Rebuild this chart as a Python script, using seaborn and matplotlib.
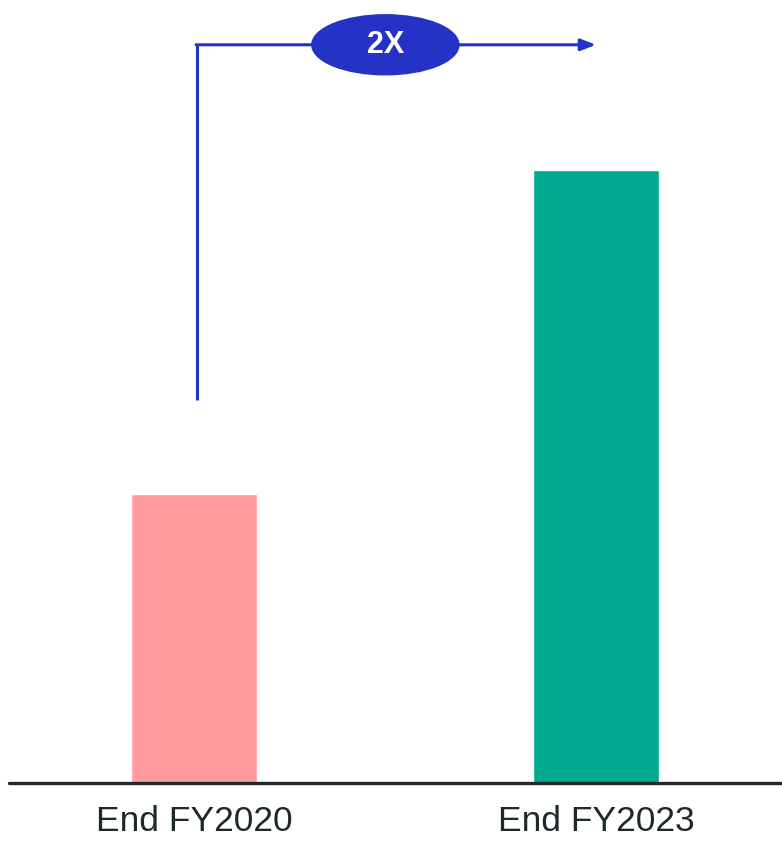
import numpy as np
import pandas as pd
import matplotlib
matplotlib.use("Agg")
import matplotlib.pyplot as plt
from matplotlib.patches import Ellipse
import seaborn as sns

# data
periods = ["End FY2020", "End FY2023"]
values = [1.0, 2.12]
bar_colors = ["#FF9B9E", "#00A88F"]
growth_label = "2X"

df = pd.DataFrame({"period": periods, "value": values})

sns.set_style("white")
plt.rcParams["font.family"] = ["Liberation Sans", "DejaVu Sans"]

fig = plt.figure(figsize=(7.82, 8.44), dpi=100)
ax = fig.add_axes([0, 61 / 844, 1, 783 / 844])

sns.barplot(data=df, x="period", y="value", hue="period", palette=bar_colors,
            width=0.313, legend=False, ax=ax, saturation=1)

ax.set_xlim(-0.483, 1.463)
ax.set_ylim(0, 2.709)
ax.set_xlabel("")
ax.set_ylabel("")
ax.set_yticks([])
for s in ax.spines.values():
    s.set_visible(False)

# baseline
ax.axhline(0, xmin=0.0115, xmax=1, color="#1E292B", lw=2.4, clip_on=False, zorder=5)

ax.tick_params(axis="x", length=0, pad=16, labelsize=25.5, labelcolor="#1E292B")

# growth arrow
blue = "#2433C5"
y_top = 2.554
ax.plot([0.008, 0.008], [1.325, y_top], color=blue, lw=2.2, solid_capstyle="butt")
ax.annotate("", xy=(1.0, y_top), xytext=(0.008 - 0.003, y_top),
            arrowprops=dict(arrowstyle="-|>,head_length=0.9,head_width=0.35",
                            color=blue, lw=2.2, shrinkA=0, shrinkB=0))
ell = Ellipse((0.476, y_top), 0.366, 0.2076, color=blue, zorder=6)
ax.add_patch(ell)
ax.text(0.476, y_top, growth_label, color="white", fontsize=22, fontweight="bold",
        ha="center", va="center", zorder=7)

fig.savefig("out.png", dpi=100)
